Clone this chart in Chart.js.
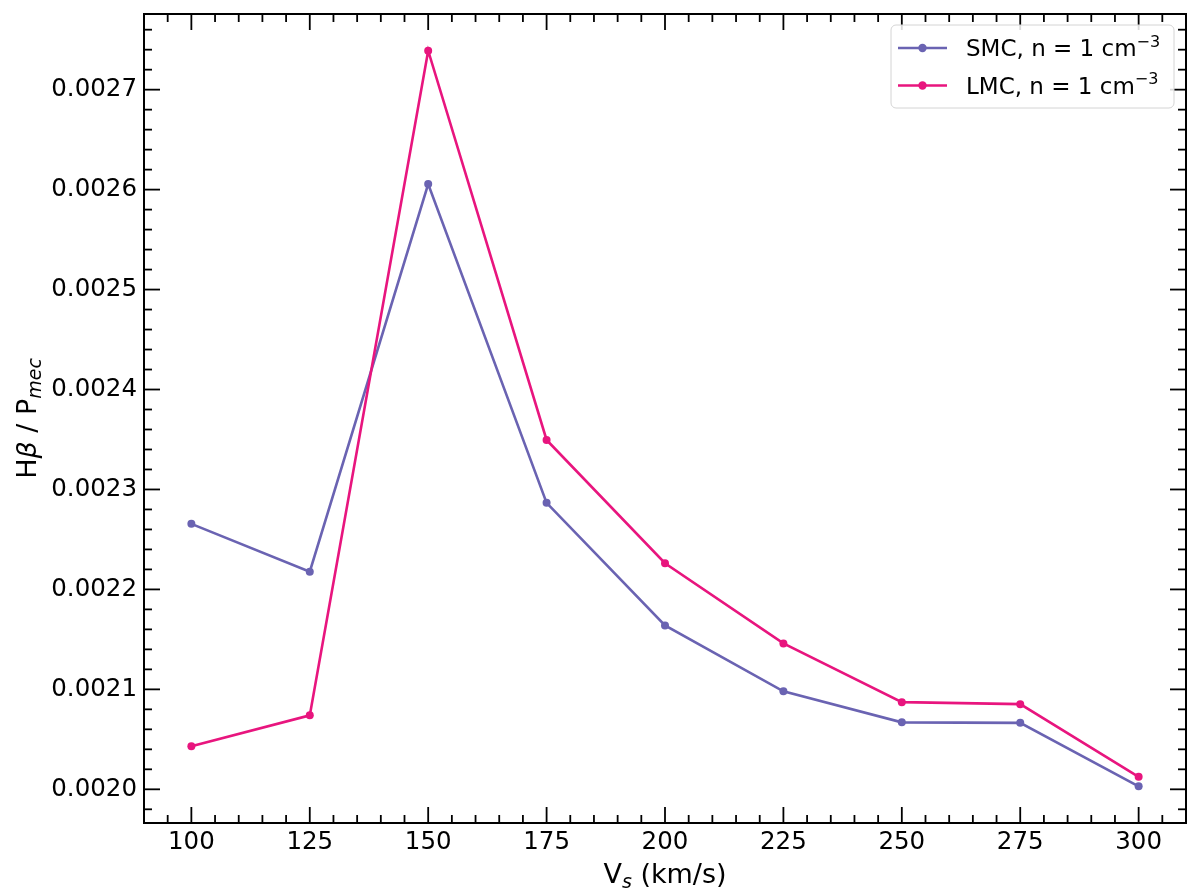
<!DOCTYPE html>
<html>
<head>
<meta charset="utf-8">
<script src="https://cdn.jsdelivr.net/npm/chart.js@4.4.0/dist/chart.umd.min.js"></script>
<style>
  html, body { margin: 0; padding: 0; background: #fff; }
  #wrap { width: 1200px; height: 888px; }
</style>
</head>
<body>
<div id="wrap"><canvas id="chart" width="1200" height="888"></canvas></div>
<script>
// shock velocities (km/s)
const velocities = [100, 125, 150, 175, 200, 225, 250, 275, 300];
// Hbeta / P_mec
const smcValues = [0.0022656, 0.0022177, 0.0026055, 0.0022866, 0.0021640, 0.0020980, 0.0020670, 0.0020665, 0.0020030];
const lmcValues = [0.0020430, 0.0020740, 0.0027390, 0.0023495, 0.0022262, 0.0021460, 0.0020872, 0.0020852, 0.0020125];

const xTickValues = [100, 125, 150, 175, 200, 225, 250, 275, 300];
const yTickValues = [0.0020, 0.0021, 0.0022, 0.0023, 0.0024, 0.0025, 0.0026, 0.0027];
const seriesLabels = ['SMC, n = 1 cm', 'LMC, n = 1 cm'];
const seriesColors = ['#6a63b2', '#e8157e'];

const FONT = "'DejaVu Sans', sans-serif";

// draws a run of text pieces (for sub/superscripts)
function drawPieces(ctx, pieces, x, y, align) {
    let total = 0;
    pieces.forEach(p => {
        ctx.font = p.font;
        total += ctx.measureText(p.text).width;
    });
    let cx = align === 'center' ? x - total / 2 : x;
    ctx.textAlign = 'left';
    ctx.textBaseline = 'alphabetic';
    pieces.forEach(p => {
        ctx.font = p.font;
        ctx.fillText(p.text, cx, y + (p.dy || 0));
        cx += ctx.measureText(p.text).width;
    });
}

const decorations = {
    id: 'decorations',
    afterDraw(chart) {
        const ctx = chart.ctx;
        const area = chart.chartArea;
        const xs = chart.scales.x;
        const ys = chart.scales.y;

        ctx.save();
        ctx.strokeStyle = '#000';

        // ticks, inward, on all four sides
        ctx.lineWidth = 1.8;
        const tick = (x1, y1, x2, y2) => {
            ctx.beginPath();
            ctx.moveTo(x1, y1);
            ctx.lineTo(x2, y2);
            ctx.stroke();
        };
        for (let v = 90; v <= 310; v += 5) {
            const px = xs.getPixelForValue(v);
            const len = xTickValues.includes(v) ? 16 : 8;
            tick(px, area.bottom, px, area.bottom - len);
            tick(px, area.top, px, area.top + len);
        }
        for (let i = Math.ceil(ys.min / 0.00002); i <= Math.floor(ys.max / 0.00002); i++) {
            const v = i * 0.00002;
            const py = ys.getPixelForValue(v);
            const len = i % 5 === 0 ? 16 : 8;
            tick(area.left, py, area.left + len, py);
            tick(area.right, py, area.right - len, py);
        }

        // frame
        ctx.lineWidth = 2;
        ctx.strokeRect(area.left, area.top, area.right - area.left, area.bottom - area.top);

        // axis titles
        ctx.fillStyle = '#000';
        const big = '27px ' + FONT;
        const sub = 'italic 19px ' + FONT;
        drawPieces(ctx, [
            { text: 'V', font: big },
            { text: 's', font: sub, dy: 5 },
            { text: ' (km/s)', font: big }
        ], (area.left + area.right) / 2, 883, 'center');

        ctx.save();
        ctx.translate(36, (area.top + area.bottom) / 2);
        ctx.rotate(-Math.PI / 2);
        drawPieces(ctx, [
            { text: 'H', font: big },
            { text: 'β', font: 'italic 27px ' + FONT },
            { text: ' / P', font: big },
            { text: 'mec', font: sub, dy: 5 }
        ], 0, 0, 'center');
        ctx.restore();

        // legend
        const lx = 891, ly = 25, lw = 283, lh = 83;
        ctx.beginPath();
        ctx.roundRect(lx, ly, lw, lh, 5);
        ctx.fillStyle = 'rgba(255,255,255,0.85)';
        ctx.fill();
        ctx.strokeStyle = '#d4d4d4';
        ctx.lineWidth = 1;
        ctx.stroke();

        const rowBase = [56, 93.5];
        chart.data.datasets.forEach((ds, i) => {
            const cy = rowBase[i] - 8;
            ctx.strokeStyle = ds.borderColor;
            ctx.lineWidth = 2.6;
            tick(898, cy, 947, cy);
            ctx.beginPath();
            ctx.arc(922.5, cy, 4.2, 0, Math.PI * 2);
            ctx.fillStyle = ds.borderColor;
            ctx.fill();
            ctx.fillStyle = '#000';
            drawPieces(ctx, [
                { text: ds.label, font: '23px ' + FONT },
                { text: '\u22123', font: '16px ' + FONT, dy: -9.5 }
            ], 966, rowBase[i], 'left');
        });

        ctx.restore();
    }
};

const noPad = s => {
    s.paddingTop = 0;
    s.paddingBottom = 0;
    s.paddingLeft = 0;
    s.paddingRight = 0;
};

new Chart(document.getElementById('chart'), {
    type: 'line',
    data: {
        labels: velocities,
        datasets: [
            {
                label: seriesLabels[0],
                data: velocities.map((v, i) => ({ x: v, y: smcValues[i] })),
                borderColor: seriesColors[0],
                backgroundColor: seriesColors[0],
                borderWidth: 2.6,
                pointRadius: 4,
                pointBorderWidth: 0,
                tension: 0,
                order: 1
            },
            {
                label: seriesLabels[1],
                data: velocities.map((v, i) => ({ x: v, y: lmcValues[i] })),
                borderColor: seriesColors[1],
                backgroundColor: seriesColors[1],
                borderWidth: 2.6,
                pointRadius: 4,
                pointBorderWidth: 0,
                tension: 0,
                order: 0
            }
        ]
    },
    options: {
        responsive: false,
        animation: false,
        devicePixelRatio: 1,
        layout: { padding: { left: 0, top: 14, right: 14, bottom: 0 } },
        plugins: {
            legend: { display: false },
            tooltip: { enabled: false }
        },
        scales: {
            x: {
                type: 'linear',
                min: 90,
                max: 310,
                afterBuildTicks: s => { s.ticks = xTickValues.map(v => ({ value: v })); },
                afterFit: s => { s.height = 65; noPad(s); },
                grid: { display: false, drawTicks: false },
                border: { display: false },
                ticks: {
                    color: '#000',
                    font: { family: FONT, size: 24.5 },
                    padding: 5,
                    maxRotation: 0
                }
            },
            y: {
                type: 'linear',
                min: 0.0019663,
                max: 0.0027757,
                afterBuildTicks: s => { s.ticks = yTickValues.map(v => ({ value: v })); },
                afterFit: s => { s.width = 144; noPad(s); },
                grid: { display: false, drawTicks: false },
                border: { display: false },
                ticks: {
                    color: '#000',
                    font: { family: FONT, size: 24.5 },
                    padding: 7,
                    callback: v => v.toFixed(4)
                }
            }
        }
    },
    plugins: [decorations]
});
</script>
</body>
</html>
